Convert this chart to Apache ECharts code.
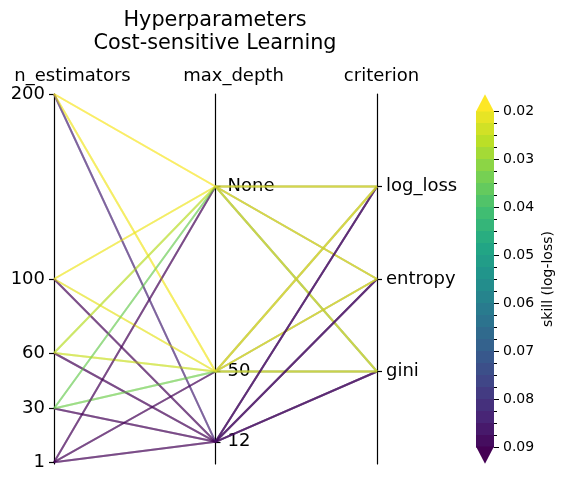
<!DOCTYPE html>
<html>
<head>
<meta charset="utf-8">
<script src="https://cdn.jsdelivr.net/npm/echarts@6/dist/echarts.min.js"></script>
<style>
  html, body { margin: 0; padding: 0; background: #fff; }
  #chart { width: 564px; height: 483px; }
</style>
</head>
<body>
<div id="chart"></div>
<script>
    // grid search levels
    var nEstimators = [1, 30, 60, 100, 200];
    var maxDepth = ['12', '50', 'None'];
    var criteria = ['gini', 'entropy', 'log_loss'];

    // where each level sits on the shared 0-200 scale
    var maxDepthCode = [12, 50, 150];
    var criterionCode = [50, 100, 150];

    // skill (log-loss); rows = max_depth 12 / 50 / None, cols = n_estimators
    var skillGini = [
        [0.110, 0.092, 0.091, 0.090, 0.084],
        [0.110, 0.037, 0.027, 0.024, 0.022],
        [0.110, 0.038, 0.029, 0.023, 0.022]
    ];
    var skillEntropy = [
        [0.110, 0.091, 0.090, 0.089, 0.083],
        [0.110, 0.034, 0.025, 0.022, 0.021],
        [0.110, 0.035, 0.027, 0.021, 0.020]
    ];
    var skillLogLoss = [
        [0.110, 0.091, 0.090, 0.089, 0.083],
        [0.110, 0.034, 0.025, 0.022, 0.021],
        [0.110, 0.035, 0.027, 0.021, 0.020]
    ];

    // colorbar
    var colorTicks = [0.02, 0.03, 0.04, 0.05, 0.06, 0.07, 0.08, 0.09];
    var colorLevels = [0.02, 0.0225, 0.025, 0.0275, 0.03, 0.0325, 0.035, 0.0375,
        0.04, 0.0425, 0.045, 0.0475, 0.05, 0.0525, 0.055, 0.0575, 0.06, 0.0625,
        0.065, 0.0675, 0.07, 0.0725, 0.075, 0.0775, 0.08, 0.0825, 0.085, 0.0875, 0.09];

    var viridis = ['#440154', '#482475', '#414487', '#355f8d', '#2a788e', '#21918c',
        '#22a884', '#44bf70', '#7ad151', '#bddf26', '#fde725'];
    var vmin = colorTicks[0], vmax = colorTicks[colorTicks.length - 1];

    function skillColor(v) {
        var t = (vmax - v) / (vmax - vmin);   // reversed: low loss = yellow
        t = Math.max(0, Math.min(1, t));
        return echarts.color.lerp(t, viridis);
    }

    var font = 'DejaVu Sans';
    var series = [];

    [skillGini, skillEntropy, skillLogLoss].forEach(function (table, c) {
        maxDepth.forEach(function (d, j) {
            nEstimators.forEach(function (n, i) {
                series.push({
                    type: 'line',
                    xAxisIndex: 0,
                    yAxisIndex: 0,
                    data: [[0, n], [1, maxDepthCode[j]], [2, criterionCode[c]]],
                    symbol: 'none',
                    silent: true,
                    lineStyle: { width: 2, color: skillColor(table[j][i]), opacity: 0.33 }
                });
            });
        });
    });

    // colorbar bands
    var bands = [];
    for (var k = 0; k < colorLevels.length - 1; k++) {
        bands.push([0, colorLevels[k], colorLevels[k + 1]]);
    }
    series.push({
        type: 'custom',
        xAxisIndex: 1,
        yAxisIndex: 3,
        encode: { x: 0, y: [1, 2] },
        silent: true,
        data: bands,
        renderItem: function (params, api) {
            var p0 = api.coord([0, api.value(1)]);
            var p1 = api.coord([0, api.value(2)]);
            var w = api.size([1, 0])[0];
            var nb = colorLevels.length - 1;
            var t = (nb - params.dataIndex) / (nb + 1);
            return {
                type: 'rect',
                shape: { x: p0[0] - w / 2, y: Math.min(p0[1], p1[1]), width: w, height: Math.abs(p1[1] - p0[1]) + 0.6 },
                style: { fill: echarts.color.lerp(t, viridis) }
            };
        }
    });
    // extension triangles
    series.push({
        type: 'custom',
        xAxisIndex: 1,
        yAxisIndex: 3,
        encode: { x: 0, y: 1 },
        silent: true,
        data: [[0, vmin], [0, vmax]],
        renderItem: function (params, api) {
            var base = api.coord([0, api.value(1)]);
            var w = api.size([1, 0])[0];
            var len = 0.05 * Math.abs(api.coord([0, vmax])[1] - api.coord([0, vmin])[1]);
            var dir = params.dataIndex === 0 ? -1 : 1;
            return {
                type: 'polygon',
                shape: { points: [[base[0] - w / 2, base[1] - dir * 0.5], [base[0] + w / 2, base[1] - dir * 0.5], [base[0], base[1] + dir * len]] },
                style: { fill: params.dataIndex === 0 ? viridis[viridis.length - 1] : viridis[0] }
            };
        }
    });

    function paraAxis(name, pos, offset, ticks, labels, shift, margin) {
        return {
            type: 'value',
            gridIndex: 0,
            position: pos,
            offset: offset,
            min: 0,
            max: 200,
            name: name,
            nameLocation: 'end',
            nameGap: 9,
            nameTextStyle: { fontFamily: font, fontSize: 18, color: '#000', padding: [0, 0, 0, shift] },
            axisLine: { show: true, onZero: false, lineStyle: { color: '#000', width: 1.2 } },
            axisTick: { show: true, length: 5, customValues: ticks, lineStyle: { color: '#000', width: 1.2 } },
            axisLabel: {
                customValues: ticks,
                fontFamily: font,
                fontSize: 18,
                color: '#000',
                margin: margin,
                formatter: function (v) {
                    var idx = ticks.indexOf(v);
                    return labels ? labels[idx] : String(v);
                }
            },
            splitLine: { show: false }
        };
    }

    var option = {
        animation: false,
        backgroundColor: '#fff',
        textStyle: { fontFamily: font },
        graphic: [{
            type: 'text',
            x: 215,
            y: 9,
            style: {
                text: 'Hyperparameters\nCost-sensitive Learning',
                fontFamily: font,
                fontSize: 20.8,
                lineHeight: 23,
                fill: '#000',
                align: 'center',
                verticalAlign: 'top'
            }
        }],
        grid: [
            { left: 54, top: 94, right: 187, bottom: 19 },
            { left: 476, top: 111, width: 18, height: 336 }
        ],
        xAxis: [
            { type: 'value', gridIndex: 0, min: 0, max: 2, show: false },
            { type: 'category', gridIndex: 1, data: ['bar'], show: false }
        ],
        yAxis: [
            paraAxis('n_estimators', 'left', 0, nEstimators, null, 37, 9),
            paraAxis('max_depth', 'right', -161.5, maxDepthCode, maxDepth, 36, 12),
            paraAxis('criterion', 'right', 0, criterionCode, criteria, 9, 9),
            {
                type: 'value',
                gridIndex: 1,
                position: 'right',
                inverse: true,
                min: vmin,
                max: vmax,
                interval: 0.01,
                axisLine: { show: false, onZero: false },
                axisTick: { show: true, length: 5, lineStyle: { color: '#000' } },
                minorTick: { show: true, splitNumber: 4, length: 3, lineStyle: { color: '#000' } },
                axisLabel: {
                    fontFamily: font, fontSize: 14, color: '#000', margin: 9,
                    formatter: function (v) { return v.toFixed(2); }
                },
                splitLine: { show: false },
                name: 'skill (log-loss)',
                nameLocation: 'middle',
                nameGap: 47,
                nameTextStyle: { fontFamily: font, fontSize: 14, color: '#000' }
            }
        ],
        series: series
    };

    var myChart = echarts.init(document.getElementById('chart'));
    myChart.setOption(option);
</script>
</body>
</html>
